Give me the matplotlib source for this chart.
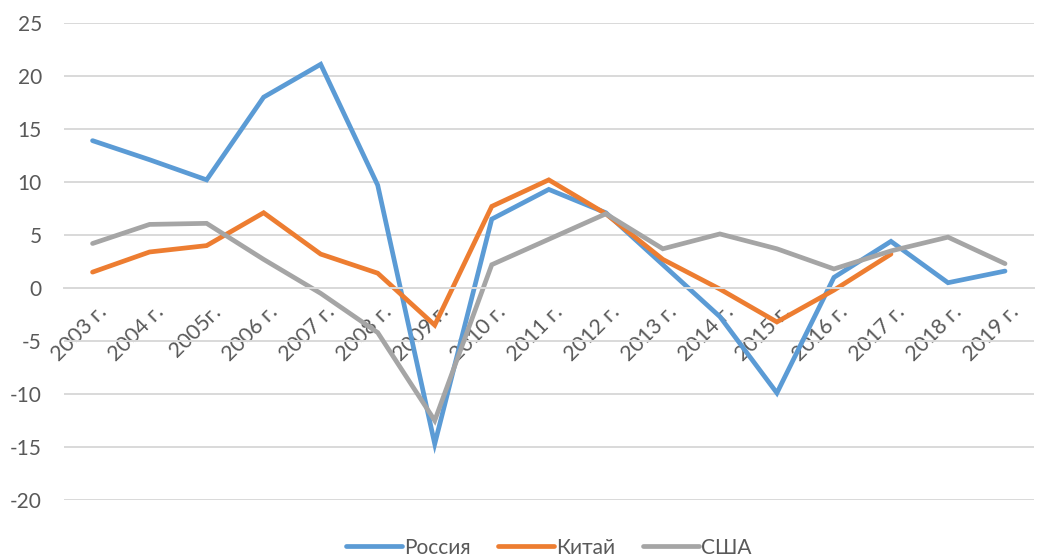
import matplotlib
matplotlib.use('Agg')
import matplotlib.pyplot as plt
import matplotlib.transforms as mtransforms
import numpy as np

plt.rcParams['font.family'] = ['Lato', 'Open Sans', 'DejaVu Sans']
plt.rcParams['axes.unicode_minus'] = False

years = ['2003 г.', '2004 г.', '2005г.', '2006 г.', '2007 г.', '2008 г.', '2009 г.',
         '2010 г.', '2011 г.', '2012 г.', '2013 г.', '2014 г.', '2015 г.', '2016 г.',
         '2017 г.', '2018 г.', '2019 г.']
russia = [13.9, 12.1, 10.2, 18.0, 21.1, 9.7, -14.7, 6.5, 9.3, 7.1, 2.2, -2.7, -9.9,
          1.0, 4.4, 0.5, 1.6]
china = [1.5, 3.4, 4.0, 7.1, 3.2, 1.4, -3.5, 7.7, 10.2, 7.0, 2.7, -0.1, -3.2,
         -0.2, 3.2]
usa = [4.2, 6.0, 6.1, 2.7, -0.5, -4.2, -12.5, 2.2, 4.6, 7.0, 3.7, 5.1, 3.7,
       1.8, 3.5, 4.8, 2.3]

grid_c = '#D9D9D9'
text_c = '#595959'

fig = plt.figure(figsize=(10.38, 5.6), dpi=100)
ax = fig.add_axes([0.0617, 0.107, 0.934, 0.852])

x = np.arange(len(years))
kw = dict(lw=3.4, solid_capstyle='round', solid_joinstyle='miter')
ax.plot(x, russia, color='#5B9BD5', label='Россия', **kw)
ax.plot(x[:len(china)], china, color='#ED7D31', label='Китай', **kw)
ax.plot(x, usa, color='#A5A5A5', label='США', **kw)

ax.set_xlim(-0.5, len(years) - 0.5)
ax.set_ylim(-20, 25)
ax.set_yticks(np.arange(-20, 26, 5))
ax.yaxis.grid(True, color=grid_c, lw=1.4)
ax.set_axisbelow(True)
for s in ['top', 'right', 'left']:
    ax.spines[s].set_visible(False)
ax.spines['bottom'].set_position(('data', 0))
ax.spines['bottom'].set_color(grid_c)
ax.spines['bottom'].set_linewidth(1.4)
ax.tick_params(axis='y', length=0, pad=16, labelsize=15, labelcolor=text_c)
ax.tick_params(axis='x', length=0, labelsize=15.5, labelcolor=text_c)

ax.set_xticks(x)
ax.set_xticklabels(years, rotation=45, ha='right', va='top', rotation_mode='anchor')
offset = mtransforms.ScaledTranslation(4 / 100, -9 / 100, fig.dpi_scale_trans)
for lab in ax.get_xticklabels():
    lab.set_transform(lab.get_transform() + offset)

leg = ax.legend(loc='lower center', bbox_to_anchor=(0.5, -0.16), ncol=3, frameon=False,
                fontsize=15, handlelength=2.7, handletextpad=0.1, columnspacing=1.3,
                labelcolor=text_c, bbox_transform=ax.transAxes)

fig.savefig('out.png', dpi=100)
